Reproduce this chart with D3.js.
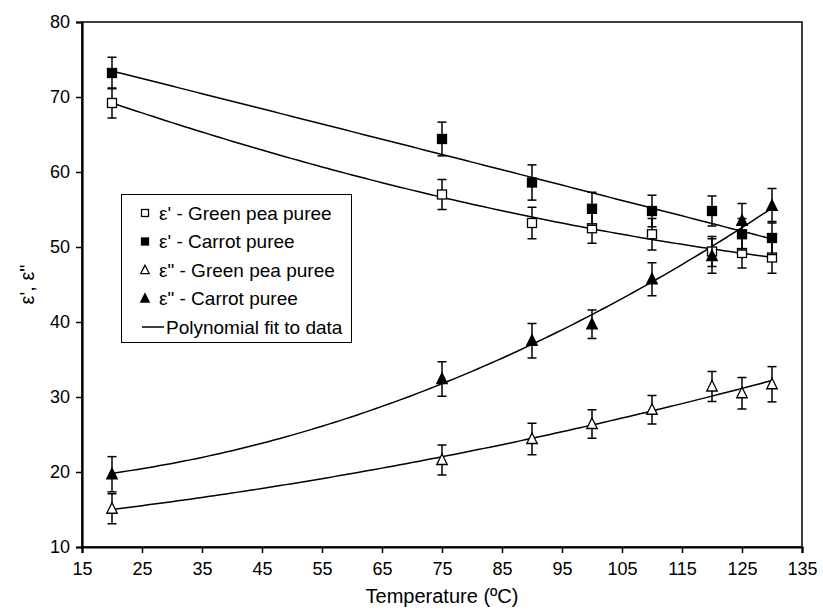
<!DOCTYPE html>
<html>
<head>
<meta charset="utf-8">
<script src="https://cdn.jsdelivr.net/npm/d3@7"></script>
<style>
  html, body { margin: 0; padding: 0; background: #fff; }
  svg { display: block; }
  text { font-family: "Liberation Sans", Arial, sans-serif; fill: #000; }
</style>
</head>
<body>
<svg id="chart" width="823" height="610"></svg>
<script>
// ---- data ----
const temperatures = [20, 75, 90, 100, 110, 120, 125, 130];
const epsPrimeGreenPea  = [69.2, 57.0, 53.2, 52.5, 51.7, 49.4, 49.2, 48.6];
const epsPrimeCarrot    = [73.2, 64.4, 58.6, 55.1, 54.8, 54.8, 51.7, 51.2];
const epsSecGreenPea    = [15.1, 21.6, 24.4, 26.4, 28.3, 31.4, 30.5, 31.7];
const epsSecCarrot      = [19.7, 32.4, 37.5, 39.7, 45.7, 48.8, 53.5, 55.5];
const errPrimeGreenPea  = [2.0, 2.0, 2.1, 2.0, 2.1, 2.0, 2.0, 2.1];
const errPrimeCarrot    = [2.1, 2.25, 2.35, 2.2, 2.1, 2.0, 2.1, 2.2];
const errSecGreenPea    = [2.0, 2.0, 2.1, 1.9, 1.9, 2.0, 2.1, 2.35];
const errSecCarrot      = [2.35, 2.3, 2.3, 1.9, 2.2, 2.3, 2.3, 2.3];
const xTicks = [15, 25, 35, 45, 55, 65, 75, 85, 95, 105, 115, 125, 135];
const yTicks = [10, 20, 30, 40, 50, 60, 70, 80];
const legendLabels = ["ε' - Green pea puree", "ε' - Carrot puree", "ε\" - Green pea puree", "ε\" - Carrot puree", "Polynomial fit to data"];

const series = [
  { values: epsPrimeGreenPea, err: errPrimeGreenPea, shape: "square", fill: "#fff" },
  { values: epsPrimeCarrot,   err: errPrimeCarrot,   shape: "square", fill: "#000" },
  { values: epsSecGreenPea,   err: errSecGreenPea,   shape: "triangle", fill: "#fff" },
  { values: epsSecCarrot,     err: errSecCarrot,     shape: "triangle", fill: "#000" }
];

// ---- layout ----
const L = 82, R = 802, T = 22, B = 547;
const svg = d3.select("#chart");
const x = d3.scaleLinear().domain([15, 135]).range([L, R]);
const y = d3.scaleLinear().domain([10, 80]).range([B, T]);

// quadratic least-squares fit
function polyfit2(xs, ys) {
  let S = [0,0,0,0,0], Ty = [0,0,0];
  xs.forEach((xi, i) => {
    let p = 1;
    for (let k = 0; k <= 4; k++) { S[k] += p; if (k <= 2) Ty[k] += p * ys[i]; p *= xi; }
  });
  const A = [[S[0],S[1],S[2],Ty[0]],[S[1],S[2],S[3],Ty[1]],[S[2],S[3],S[4],Ty[2]]];
  for (let c = 0; c < 3; c++) {
    for (let r = c + 1; r < 3; r++) {
      const f = A[r][c] / A[c][c];
      for (let k = c; k < 4; k++) A[r][k] -= f * A[c][k];
    }
  }
  const coef = [0,0,0];
  for (let r = 2; r >= 0; r--) {
    let s = A[r][3];
    for (let k = r + 1; k < 3; k++) s -= A[r][k] * coef[k];
    coef[r] = s / A[r][r];
  }
  return t => coef[0] + coef[1] * t + coef[2] * t * t;
}

// frame (top/right)
svg.append("rect").attr("x", L).attr("y", T).attr("width", R - L).attr("height", B - T)
  .attr("fill", "none").attr("stroke", "#000").attr("stroke-width", 1.5);

// axes
const xAxis = svg.append("g").attr("transform", `translate(0,${B})`)
  .call(d3.axisBottom(x).tickValues(xTicks).tickSizeOuter(0).tickSize(6).tickPadding(9));
const yAxis = svg.append("g").attr("transform", `translate(${L},0)`)
  .call(d3.axisLeft(y).tickValues(yTicks).tickSizeOuter(0).tickSize(6).tickPadding(6));
[xAxis, yAxis].forEach(g => {
  g.select(".domain").attr("stroke", "#000").attr("stroke-width", 2.2);
  g.selectAll(".tick line").attr("stroke", "#000").attr("stroke-width", 1.5);
  g.selectAll(".tick text").attr("font-size", 18).attr("font-family", "Liberation Sans, Arial, sans-serif").attr("fill", "#000");
});

// axis titles
svg.append("text").attr("x", (L + R) / 2).attr("y", 603).attr("text-anchor", "middle")
  .attr("font-size", 20).text("Temperature (ºC)");
svg.append("text").attr("transform", `translate(34,${(T + B) / 2}) rotate(-90)`)
  .attr("text-anchor", "middle").attr("font-size", 20).text("ε', ε\"");

// fit curves
const line = d3.line().x(d => x(d[0])).y(d => y(d[1]));
series.forEach(s => {
  const f = polyfit2(temperatures, s.values);
  const pts = d3.range(20, 130.01, 1).map(t => [t, f(t)]);
  svg.append("path").attr("d", line(pts)).attr("fill", "none").attr("stroke", "#000").attr("stroke-width", 1.5);
});

// error bars and markers
function marker(g, shape, fill, cx, cy, size) {
  if (shape === "square") {
    g.append("rect").attr("x", cx - size / 2).attr("y", cy - size / 2).attr("width", size).attr("height", size)
      .attr("fill", fill).attr("stroke", "#000").attr("stroke-width", 1.3);
  } else {
    const h = size * 1.05;
    g.append("path").attr("d", `M${cx},${cy - h * 0.6}L${cx + size / 2 + 0.5},${cy + h * 0.45}L${cx - size / 2 - 0.5},${cy + h * 0.45}Z`)
      .attr("fill", fill).attr("stroke", "#000").attr("stroke-width", 1.3);
  }
}
series.forEach(s => {
  const g = svg.append("g");
  temperatures.forEach((t, i) => {
    const cx = x(t), v = s.values[i], e = s.err[i];
    const y1 = y(v + e), y2 = y(v - e);
    g.append("line").attr("x1", cx).attr("x2", cx).attr("y1", y1).attr("y2", y2).attr("stroke", "#000").attr("stroke-width", 1.5);
    [y1, y2].forEach(yy => g.append("line").attr("x1", cx - 4.5).attr("x2", cx + 4.5).attr("y1", yy).attr("y2", yy)
      .attr("stroke", "#000").attr("stroke-width", 1.5));
  });
  temperatures.forEach((t, i) => marker(g, s.shape, s.fill, x(t), y(s.values[i]), s.shape === "square" ? 9 : 9.5));
});

// legend
const lg = svg.append("g");
lg.append("rect").attr("x", 121.5).attr("y", 194.5).attr("width", 230).attr("height", 148)
  .attr("fill", "#fff").attr("stroke", "#000").attr("stroke-width", 1);
const rowY = [213, 241.5, 270, 298.5, 327];
legendLabels.forEach((lab, i) => {
  const yy = rowY[i];
  if (i < 4) {
    const s = series[i];
    marker(lg, s.shape, s.fill, 145, yy, s.shape === "square" ? 7 : 7.5);
    lg.append("text").attr("x", 159).attr("y", yy + 6.5).attr("font-size", 19).text(lab);
  } else {
    lg.append("line").attr("x1", 142).attr("x2", 164).attr("y1", yy).attr("y2", yy).attr("stroke", "#000").attr("stroke-width", 1.5);
    lg.append("text").attr("x", 166).attr("y", yy + 6.5).attr("font-size", 19).text(lab);
  }
});
</script>
</body>
</html>
